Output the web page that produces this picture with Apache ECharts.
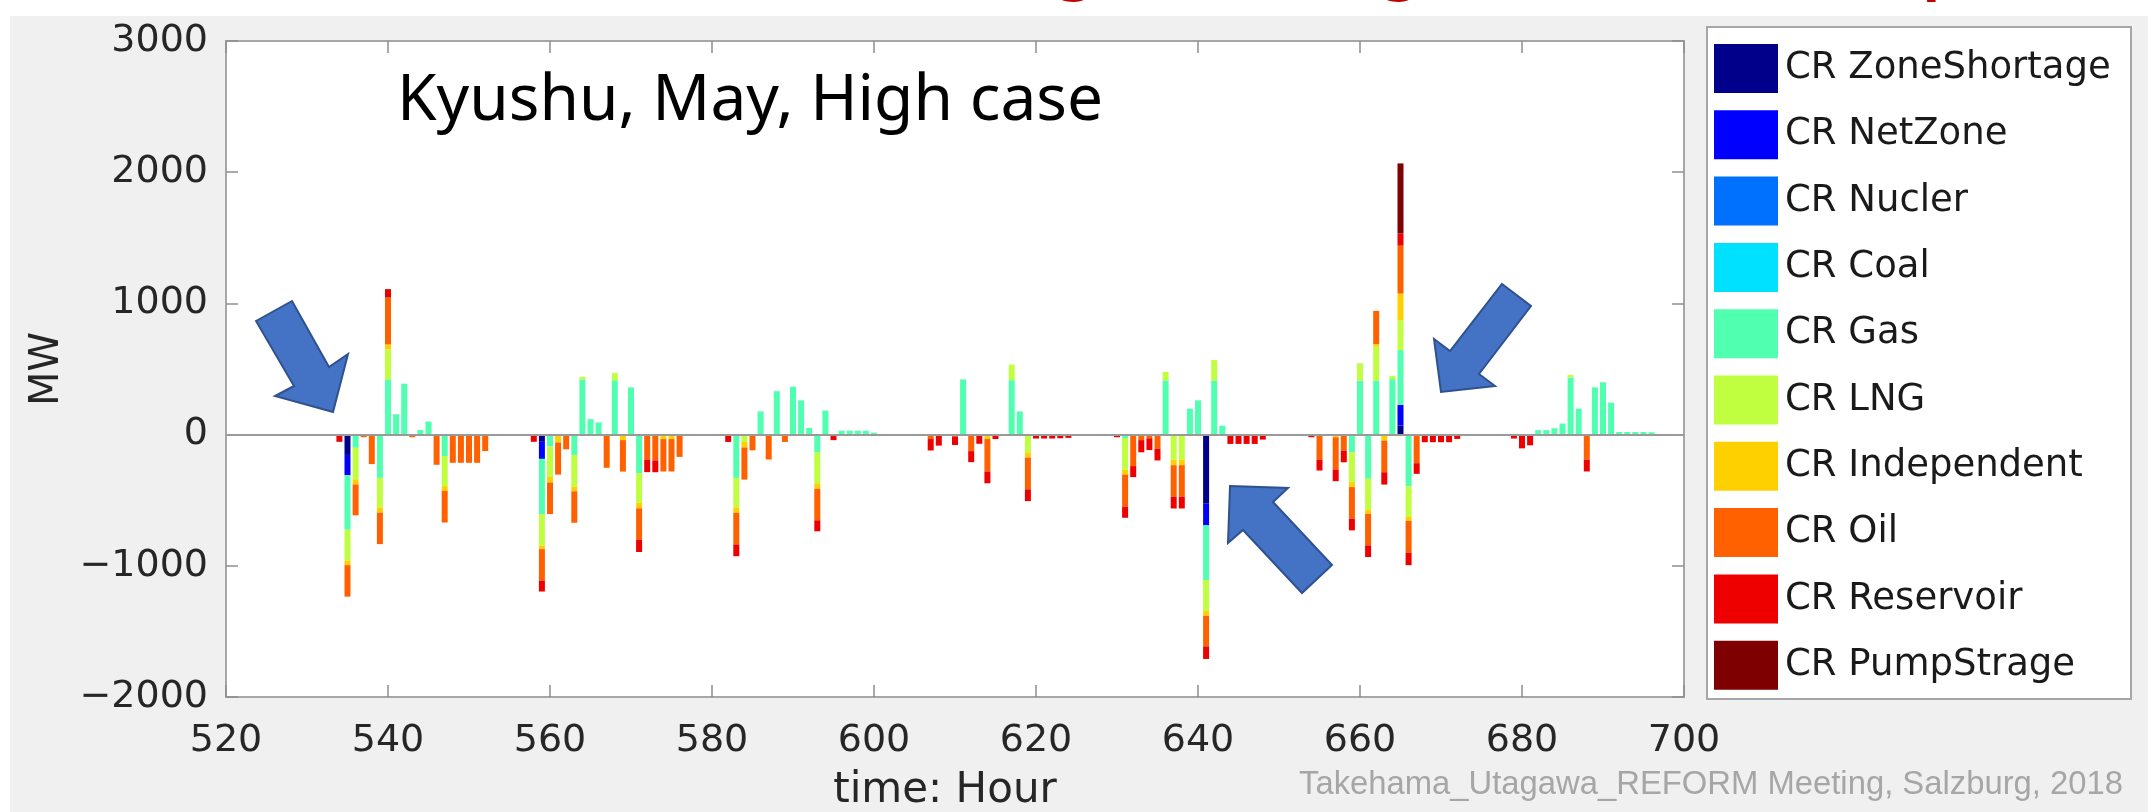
<!DOCTYPE html>
<html>
<head>
<meta charset="utf-8">
<script src="https://cdn.jsdelivr.net/npm/echarts@6/dist/echarts.min.js"></script>
<style>
html,body{margin:0;padding:0;background:#ffffff;}
#chart{width:2148px;height:812px;}
</style>
</head>
<body>
<div id="chart"></div>
<script>
// ---- Data: [hour, MW] ----
const seriesNames = ['CR ZoneShortage','CR NetZone','CR Nucler','CR Coal','CR Gas','CR LNG','CR Independent','CR Oil','CR Reservoir','CR PumpStrage'];
const seriesColors = ['#00008B','#0000FF','#0070FF','#00E0FF','#50FFB0','#BFFF3F','#FFD000','#FF6000','#EE0000','#7F0000'];

const zoneShortage = [[535,-155],[559,-55],[641,-527],[665,68]];
const netZone = [[535,-155],[559,-130],[641,-165],[665,160]];
const nucler = [];
const coal = [];
const gas = [
  [535,-415],[536,-100],[539,-330],[540,420],[541,155],[542,388],[544,35],[545,100],[547,-163],
  [559,-421],[560,-90],[563,-155],[564,420],[565,118],[566,93],[568,413],[570,360],[571,-295],
  [583,-330],[586,177],[588,331],[590,365],[591,261],[592,50],[593,-135],[594,183],
  [596,30],[597,30],[598,30],[599,30],[600,15],
  [611,421],[617,415],[618,177],
  [631,-28],[636,413],[639,197],[640,261],[641,-416],[642,411],[643,68],
  [659,-134],[660,411],[661,-337],[662,411],[664,423],[665,416],[666,-395],
  [682,34],[683,34],[684,48],[685,84],[686,435],[687,197],[689,360],[690,399],[691,244],
  [692,20],[693,20],[694,20],[695,20],[696,18]
];
const lng = [
  [535,-235],[536,-240],[539,-225],[540,230],[547,-230],
  [559,-239],[560,-233],[563,-240],[564,20],[568,56],[571,-225],
  [583,-225],[584,-56],[593,-236],
  [617,118],[619,-135],
  [631,-240],[636,65],[637,-191],[638,-191],[641,-236],[642,157],
  [659,-228],[660,132],[661,-236],[662,259],[664,25],[665,228],[666,-233],[686,20]
];
const independent = [
  [535,-35],[536,-40],[539,-40],[540,37],[547,-37],
  [559,-28],[560,-42],[561,-60],[563,-37],[567,-10],[569,-42],[571,-42],[574,-34],[575,-34],
  [583,-42],[584,-42],[593,-42],
  [614,-34],[619,-40],
  [631,-37],[637,-42],[638,-42],[641,-37],
  [657,-20],[659,-38],[661,-30],[662,20],[663,-46],[665,203],[666,-30]
];
const oil = [
  [535,-240],[536,-235],[537,-20],[538,-225],[539,-240],[540,357],[543,-20],[546,-230],[547,-240],
  [548,-215],[549,-215],[550,-215],[551,-215],[552,-125],
  [559,-239],[560,-240],[561,-245],[562,-112],[563,-240],[567,-243],[569,-240],[571,-240],
  [572,-190],[573,-197],[574,-247],[575,-247],[576,-170],
  [583,-240],[584,-245],[585,-120],[587,-190],[589,-56],[593,-240],
  [607,-34],[610,-14],[612,-126],[614,-247],[619,-242],
  [631,-245],[632,-240],[633,-42],[634,-28],[635,-107],[637,-240],[638,-240],[641,-233],
  [655,-193],[657,-246],[658,-122],[659,-241],[661,-241],[662,253],[663,-241],[665,365],[666,-243],[667,-218],
  [688,-191]
];
const reservoir = [
  [534,-55],[540,65],
  [558,-55],[559,-84],[571,-93],[572,-96],[573,-90],
  [582,-56],[583,-90],[593,-84],[595,-42],
  [607,-87],[608,-84],[610,-65],[612,-84],[613,-70],[614,-90],[615,-34],[619,-90],
  [620,-30],[621,-30],[622,-30],[623,-28],[624,-25],
  [630,-20],[631,-84],[632,-84],[633,-93],[634,-90],[635,-90],[637,-90],[638,-90],[641,-96],
  [644,-71],[645,-71],[646,-71],[647,-71],[648,-38],
  [654,-20],[655,-81],[657,-89],[658,-89],[659,-89],[661,-89],[663,-94],[665,93],[666,-94],[667,-81],
  [668,-58],[669,-58],[670,-58],[671,-58],[672,-33],
  [679,-30],[680,-105],[681,-82],[688,-90]
];
const pumpStrage = [[665,534]];

const seriesData = [zoneShortage, netZone, nucler, coal, gas, lng, independent, oil, reservoir, pumpStrage];

// axis ranges / tick spacing
const xRange = [520, 700, 20];
const yRange = [-2000, 3000, 1000];

// ---- build aligned rows (value-axis stacks align by index) ----
const hourSet = new Set();
seriesData.forEach(s => s.forEach(p => hourSet.add(p[0])));
const hours = Array.from(hourSet).sort((a, b) => a - b);

const tickFont = 'DejaVu Sans';
const series = seriesNames.map((name, i) => {
  const lookup = new Map(seriesData[i]);
  const s = {
    name: name,
    type: 'bar',
    stack: 'total',
    barWidth: 6,
    // MW first so that the stacked dimension is the value (y) one
    encode: { x: 1, y: 0 },
    dimensions: ['mw', 'hour'],
    itemStyle: { color: seriesColors[i] },
    data: hours.map(h => [lookup.has(h) ? lookup.get(h) : '-', h])
  };
  if (i === 0) {
    s.markLine = {
      silent: true,
      symbol: ['none', 'none'],
      label: { show: false },
      lineStyle: { color: '#9a9a9a', width: 2, type: 'solid' },
      data: [{ yAxis: 0 }]
    };
  }
  return s;
});

function minusFmt(v) { return v < 0 ? '\u2212' + Math.abs(v) : String(v); }

const arrowStyle = { fill: '#4472C4', stroke: '#2F528F', lineWidth: 2 };
const tickStyle = { show: true, inside: true, length: 12, lineStyle: { color: '#8f8f8f', width: 1.5 } };

const option = {
  animation: false,
  backgroundColor: '#f0f0f0',
  grid: {
    left: 226, top: 41, width: 1458, height: 656,
    show: true, backgroundColor: '#ffffff', borderColor: '#a6a6a6', borderWidth: 2
  },
  legend: {
    data: seriesNames,
    orient: 'vertical',
    left: 1714, top: 44,
    padding: 0,
    itemWidth: 64, itemHeight: 49, itemGap: 17.3,
    icon: 'rect',
    selectedMode: false,
    textStyle: { fontSize: 37, fontFamily: tickFont, color: '#1a1a1a', padding: [0, 0, 0, 2] }
  },
  xAxis: [
    {
      type: 'value', position: 'bottom', min: xRange[0], max: xRange[1], interval: xRange[2],
      axisLine: { show: false, onZero: false },
      axisTick: tickStyle,
      axisLabel: { margin: 25, fontSize: 38, fontFamily: tickFont, color: '#262626' },
      splitLine: { show: false }
    },
    {
      type: 'value', position: 'top', min: xRange[0], max: xRange[1], interval: xRange[2],
      axisLine: { show: false, onZero: false },
      axisTick: tickStyle,
      axisLabel: { show: false },
      splitLine: { show: false }
    }
  ],
  yAxis: [
    {
      type: 'value', position: 'left', min: yRange[0], max: yRange[1], interval: yRange[2],
      axisLine: { show: false, onZero: false },
      axisTick: tickStyle,
      axisLabel: { margin: 18, fontSize: 38, fontFamily: tickFont, color: '#262626', formatter: minusFmt },
      splitLine: { show: false }
    },
    {
      type: 'value', position: 'right', min: yRange[0], max: yRange[1], interval: yRange[2],
      axisLine: { show: false, onZero: false },
      axisTick: tickStyle,
      axisLabel: { show: false },
      splitLine: { show: false }
    }
  ],
  series: series,
  graphic: [
    { type: 'rect', z: 1, shape: { x: 0, y: 0, width: 2148, height: 16 }, style: { fill: '#ffffff' } },
    { type: 'rect', z: 1, shape: { x: 0, y: 0, width: 10, height: 812 }, style: { fill: '#ffffff' } },
    { type: 'text', z: 2, x: 1058, y: -27, style: { text: 'g', font: 'bold 56px "Noto Sans"', fill: '#C00000', align: 'left', verticalAlign: 'middle' } },
    { type: 'text', z: 2, x: 1383, y: -27, style: { text: 'g', font: 'bold 56px "Noto Sans"', fill: '#C00000', align: 'left', verticalAlign: 'middle' } },
    { type: 'text', z: 2, x: 1923, y: -27, style: { text: 'p', font: 'bold 56px "Noto Sans"', fill: '#C00000', align: 'left', verticalAlign: 'middle' } },
    { type: 'rect', z: 1, shape: { x: 1707, y: 27, width: 424, height: 672 }, style: { fill: '#ffffff', stroke: '#a6a6a6', lineWidth: 2 } },
    { type: 'text', z: 50, x: 397, y: 102, style: { text: 'Kyushu, May, High case', font: '64px "Noto Sans"', fill: '#000000', align: 'left', verticalAlign: 'middle' } },
    { type: 'text', z: 50, x: 48, y: 369, rotation: Math.PI / 2, style: { text: 'MW', font: '40px "DejaVu Sans"', fill: '#262626', align: 'center', verticalAlign: 'middle' } },
    { type: 'text', z: 50, x: 945, y: 791, style: { text: 'time: Hour', font: '42px "DejaVu Sans"', fill: '#262626', align: 'center', verticalAlign: 'middle' } },
    { type: 'text', z: 50, x: 1299, y: 785, style: { text: 'Takehama_Utagawa_REFORM Meeting, Salzburg, 2018', font: '32.8px "Liberation Sans"', fill: '#a6a6a6', align: 'left', verticalAlign: 'middle' } },
    { type: 'polygon', z: 100, shape: { points: [[256,321],[292,301],[329,367],[348,354],[333,412],[275,396],[294,386]] }, style: arrowStyle },
    { type: 'polygon', z: 100, shape: { points: [[1230,486],[1288,488],[1273,502],[1332,565],[1302,593],[1243,530],[1228,543]] }, style: arrowStyle },
    { type: 'polygon', z: 100, shape: { points: [[1502,284],[1531,306],[1479,374],[1495,386],[1441,392],[1434,339],[1450,351]] }, style: arrowStyle }
  ]
};

const chart = echarts.init(document.getElementById('chart'), null, { renderer: 'canvas' });
chart.setOption(option);
</script>
</body>
</html>
